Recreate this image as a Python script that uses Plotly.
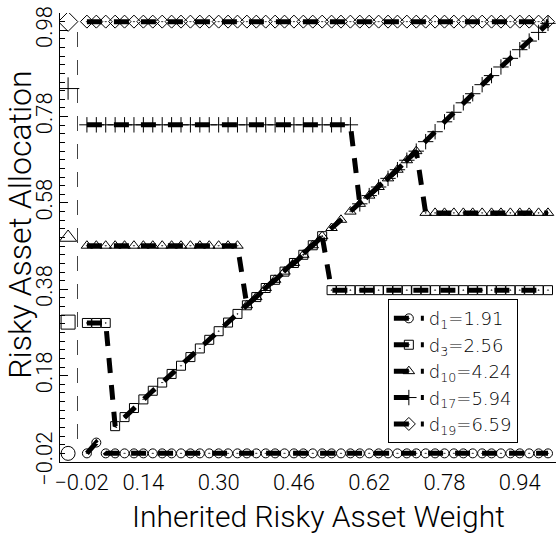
import plotly.graph_objects as go

# ---- data ----
x_grid = [0.02, 0.04, 0.06, 0.08, 0.10, 0.12, 0.14, 0.16, 0.18, 0.20,
          0.22, 0.24, 0.26, 0.28, 0.30, 0.32, 0.34, 0.36, 0.38, 0.40,
          0.42, 0.44, 0.46, 0.48, 0.50, 0.52, 0.54, 0.56, 0.58, 0.60,
          0.62, 0.64, 0.66, 0.68, 0.70, 0.72, 0.74, 0.76, 0.78, 0.80,
          0.82, 0.84, 0.86, 0.88, 0.90, 0.92, 0.94, 0.96, 0.98, 1.00]

d1_vals = [0.0, 0.025, 0.0, 0.0, 0.0, 0.0, 0.0, 0.0, 0.0, 0.0,
           0.0, 0.0, 0.0, 0.0, 0.0, 0.0, 0.0, 0.0, 0.0, 0.0,
           0.0, 0.0, 0.0, 0.0, 0.0, 0.0, 0.0, 0.0, 0.0, 0.0,
           0.0, 0.0, 0.0, 0.0, 0.0, 0.0, 0.0, 0.0, 0.0, 0.0,
           0.0, 0.0, 0.0, 0.0, 0.0, 0.0, 0.0, 0.0, 0.0, 0.0]

d3_vals = [0.302, 0.302, 0.302, 0.063, 0.084, 0.105, 0.125, 0.145, 0.164, 0.184,
           0.203, 0.223, 0.243, 0.263, 0.283, 0.303, 0.323, 0.343, 0.362, 0.383,
           0.402, 0.421, 0.441, 0.460, 0.482, 0.503, 0.378, 0.378, 0.378, 0.378,
           0.378, 0.378, 0.378, 0.378, 0.378, 0.378, 0.378, 0.378, 0.378, 0.378,
           0.378, 0.378, 0.378, 0.378, 0.378, 0.378, 0.378, 0.378, 0.378, 0.378]

d10_vals = [0.481, 0.481, 0.481, 0.481, 0.481, 0.481, 0.481, 0.481, 0.481, 0.481,
            0.481, 0.481, 0.481, 0.481, 0.481, 0.481, 0.481, 0.343, 0.362, 0.383,
            0.402, 0.421, 0.441, 0.460, 0.482, 0.503, 0.522, 0.541, 0.560, 0.578,
            0.597, 0.617, 0.637, 0.657, 0.679, 0.700, 0.557, 0.557, 0.557, 0.557,
            0.557, 0.557, 0.557, 0.557, 0.557, 0.557, 0.557, 0.557, 0.557, 0.557]

d17_vals = [0.761, 0.761, 0.761, 0.761, 0.761, 0.761, 0.761, 0.761, 0.761, 0.761,
            0.761, 0.761, 0.761, 0.761, 0.761, 0.761, 0.761, 0.761, 0.761, 0.761,
            0.761, 0.761, 0.761, 0.761, 0.761, 0.761, 0.761, 0.761, 0.761, 0.578,
            0.597, 0.617, 0.637, 0.657, 0.679, 0.700, 0.722, 0.745, 0.768, 0.790,
            0.812, 0.833, 0.854, 0.875, 0.895, 0.915, 0.935, 0.955, 0.975, 0.996]

d19_vals = [1.0, 1.0, 1.0, 1.0, 1.0, 1.0, 1.0, 1.0, 1.0, 1.0,
            1.0, 1.0, 1.0, 1.0, 1.0, 1.0, 1.0, 1.0, 1.0, 1.0,
            1.0, 1.0, 1.0, 1.0, 1.0, 1.0, 1.0, 1.0, 1.0, 1.0,
            1.0, 1.0, 1.0, 1.0, 1.0, 1.0, 1.0, 1.0, 1.0, 1.0,
            1.0, 1.0, 1.0, 1.0, 1.0, 1.0, 1.0, 1.0, 1.0, 1.0]

# isolated starting markers (left of the dashed reference line)
start_x = -0.02
start_vals = [0.0, 0.304, 0.50, 0.845, 1.0]

# thin dashed vertical reference line
ref_x = [0.0, 0.0]
ref_y = [0.976, 0.015]

series_names = ["d<sub>1</sub>=1.91", "d<sub>3</sub>=2.56", "d<sub>10</sub>=4.24",
                "d<sub>17</sub>=5.94", "d<sub>19</sub>=6.59"]
series_vals = [d1_vals, d3_vals, d10_vals, d17_vals, d19_vals]
symbols = ["circle-open-dot", "square-open-dot", "triangle-up-open-dot",
           "cross-thin-open", "diamond-open-dot"]
sizes = [9, 9, 10, 11, 10]

x_tickvals = [-0.02, 0.14, 0.30, 0.46, 0.62, 0.78, 0.94]
x_ticktext = ["\u00a0\u00a0\u00a0\u00a0\u00a0\u22120.02", "0.14", "0.30", "0.46", "0.62", "0.78", "0.94"]

x_title = "Inherited Risky Asset Weight"
y_title = "Risky Asset Allocation"

FONT = "Roboto"
LEGEND_FONT = "DejaVu Sans"

fig = go.Figure()

fig.add_trace(go.Scatter(x=ref_x, y=ref_y, mode="lines", showlegend=False,
                         line=dict(color="#444", width=1, dash="15px,13px"),
                         hoverinfo="skip"))

for name, vals, sym, sz in zip(series_names, series_vals, symbols, sizes):
    fig.add_trace(go.Scatter(
        x=x_grid, y=vals, mode="lines+markers", name=name,
        line=dict(color="black", width=5, dash="15px,12px"),
        marker=dict(symbol=sym, size=sz, color="black",
                    line=dict(color="black", width=1)),
    ))

for vals_start, sym, sz in zip(start_vals, symbols, sizes):
    fig.add_trace(go.Scatter(
        x=[start_x], y=[vals_start], mode="markers", showlegend=False,
        marker=dict(symbol=sym.replace("-dot", ""), size=sz + 5, color="black",
                    line=dict(color="black", width=1)),
    ))

fig.update_layout(
    width=556, height=540,
    margin=dict(l=60, r=0, t=13, b=78),
    paper_bgcolor="white", plot_bgcolor="white",
    font=dict(family=FONT, color="black", size=22, weight=300),
    showlegend=True,
    legend=dict(x=0.661, y=0.042, xanchor="left", yanchor="bottom",
                bgcolor="white", bordercolor="black", borderwidth=1,
                font=dict(family=LEGEND_FONT, size=18, color="black", weight=300),
                itemwidth=30, tracegroupgap=0),
    annotations=[
        dict(text=x_title, xref="paper", yref="paper", x=0.522, y=-0.122,
             xanchor="center", yanchor="middle", showarrow=False,
             font=dict(family=FONT, size=30, color="black", weight=300)),
        dict(text=y_title, xref="paper", yref="paper", x=-0.081, y=0.53,
             xanchor="center", yanchor="middle", showarrow=False, textangle=-90,
             font=dict(family=FONT, size=32, color="black", weight=300)),
    ],
)

fig.update_xaxes(
    range=[-0.0372, 1.017], showline=True, linecolor="black", linewidth=1,
    showgrid=False, zeroline=False, ticks="", automargin=False,
    tickmode="array", tickvals=x_tickvals, ticktext=x_ticktext,
    tickfont=dict(family=FONT, size=22, weight=300), ticklabelstandoff=1,
)

fig.update_yaxes(
    range=[-0.02, 1.02], showline=True, linecolor="black", linewidth=1,
    showgrid=False, zeroline=False, automargin=False,
    tickmode="linear", tick0=-0.02, dtick=0.2, tickformat=".2f",
    ticks="inside", ticklen=8, tickcolor="black", tickangle=-90,
    minor=dict(ticks="inside", ticklen=5, tickmode="linear", tick0=-0.02,
               dtick=0.02, tickcolor="black"),
    tickfont=dict(family=FONT, size=22, weight=300), ticklabelstandoff=-2,
)

fig.write_html("out.html", config={"displayModeBar": False},
               post_script="document.body.style.margin='0px';")
